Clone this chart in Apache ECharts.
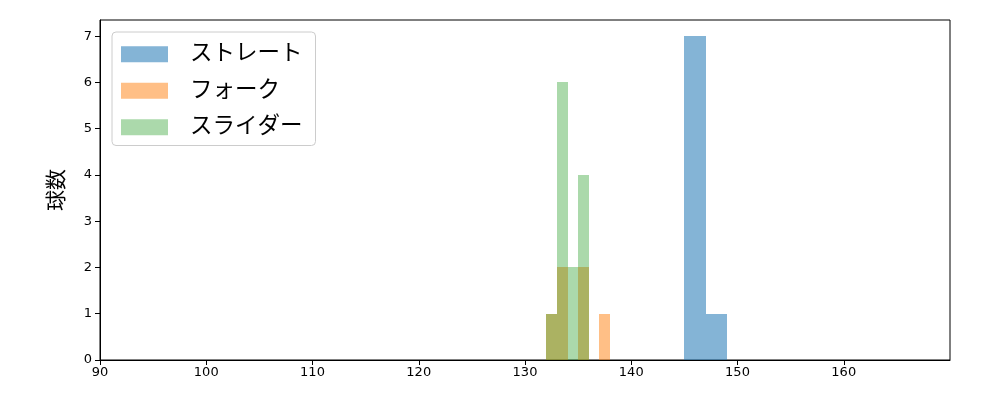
<!DOCTYPE html>
<html>
<head>
<meta charset="utf-8">
<script src="https://cdn.jsdelivr.net/npm/echarts@6/dist/echarts.min.js"></script>
<style>
  html, body { margin: 0; padding: 0; background: #fff; }
  #chart { width: 1000px; height: 400px; }
</style>
</head>
<body>
<div id="chart"></div>
<script>
// bin edges [from, to] and counts per pitch type
const straightBins = [[145, 147], [147, 149]]
const straightCounts = [7, 1]
const forkBins = [[132, 133], [133, 134], [135, 136], [137, 138]]
const forkCounts = [1, 2, 2, 1]
const sliderBins = [[132, 133], [133, 134], [134, 135], [135, 136]]
const sliderCounts = [1, 6, 2, 4]
const seriesNames = ['ストレート', 'フォーク', 'スライダー']
const xTicks = [90, 100, 110, 120, 130, 140, 150, 160]
const yTicks = [0, 1, 2, 3, 4, 5, 6, 7]

const font = 'DejaVu Sans, Noto Sans CJK JP, sans-serif'

function toData (bins, counts) {
  return bins.map((b, i) => [b[0], b[1], counts[i]])
}

function renderBar (params, api) {
  const p0 = api.coord([api.value(0), api.value(2)])
  const p1 = api.coord([api.value(1), 0])
  const x0 = Math.round(p0[0])
  const x1 = Math.round(p1[0])
  const y0 = Math.round(p0[1])
  const y1 = Math.round(p1[1])
  return {
    type: 'rect',
    shape: { x: x0, y: y0, width: x1 - x0, height: y1 - y0 },
    style: api.style()
  }
}

function histSeries (name, bins, counts, color) {
  return {
    name: name,
    type: 'custom',
    renderItem: renderBar,
    itemStyle: { color: color },
    encode: { x: [0, 1], y: 2 },
    data: toData(bins, counts)
  }
}

const chart = echarts.init(document.getElementById('chart'))
const option = {
  animation: false,
  grid: {
    left: 100,
    right: 50,
    top: 20,
    bottom: 40,
    show: true,
    borderColor: '#000',
    borderWidth: 1
  },
  legend: {
    orient: 'vertical',
    left: 112,
    top: 32,
    padding: [11, 13, 7, 9],
    itemWidth: 47,
    itemHeight: 16,
    itemGap: 14,
    borderColor: '#cccccc',
    borderWidth: 1,
    borderRadius: 4,
    backgroundColor: '#fff',
    textStyle: { fontSize: 22.5, color: '#000', fontFamily: font, padding: [0, 0, 0, 17] },
    data: seriesNames.map(n => ({ name: n, icon: 'rect' }))
  },
  xAxis: {
    type: 'value',
    min: 90,
    max: 170,
    splitLine: { show: false },
    axisLine: { show: true, onZero: false, lineStyle: { color: '#000', width: 1 } },
    axisTick: { show: true, length: 5, lineStyle: { color: '#000' }, customValues: xTicks },
    axisLabel: { color: '#000', fontSize: 13, fontFamily: font, margin: 6, customValues: xTicks }
  },
  yAxis: {
    type: 'value',
    min: 0,
    max: 7.35,
    name: '球数',
    nameLocation: 'middle',
    nameRotate: 90,
    nameGap: 32,
    nameTextStyle: { fontSize: 21, color: '#000', fontFamily: font },
    splitLine: { show: false },
    axisLine: { show: true, lineStyle: { color: '#000', width: 1 } },
    axisTick: { show: true, length: 5, lineStyle: { color: '#000' }, customValues: yTicks },
    axisLabel: { color: '#000', fontSize: 13, fontFamily: font, margin: 8, customValues: yTicks }
  },
  series: [
    histSeries(seriesNames[0], straightBins, straightCounts, 'rgba(31,119,180,0.55)'),
    histSeries(seriesNames[1], forkBins, forkCounts, 'rgba(255,127,14,0.5)'),
    histSeries(seriesNames[2], sliderBins, sliderCounts, 'rgba(44,160,44,0.4)')
  ]
}
chart.setOption(option)
</script>
</body>
</html>
